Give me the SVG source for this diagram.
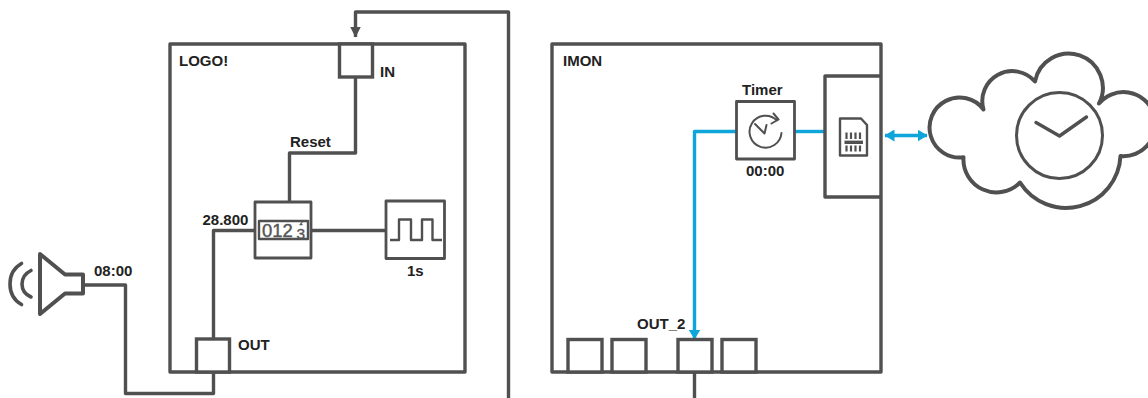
<svg xmlns="http://www.w3.org/2000/svg" width="1148" height="398" viewBox="0 0 1148 398">
<style>
.l{fill:none;stroke:#505050;stroke-width:3.4;stroke-linejoin:round}
.m{fill:none;stroke:#505050;stroke-width:2.8;stroke-linejoin:round}
.t{fill:none;stroke:#505050;stroke-width:2;stroke-linejoin:round;stroke-linecap:round}
.b{fill:none;stroke:#0ea5db;stroke-width:3.4;stroke-linejoin:round}
.p{fill:#fff;stroke:#505050;stroke-width:3.4}
text{font-family:"Liberation Sans",Arial,sans-serif;font-weight:700;font-size:15px;fill:#222}
.d{font-weight:400;font-size:18.5px;fill:#555;stroke:#555;stroke-width:.4}
</style>
<defs>
<marker id="ga" viewBox="0 0 11 11" refX="10.500" refY="5.500" markerWidth="11" markerHeight="11" markerUnits="userSpaceOnUse" orient="auto-start-reverse"><path d="M0 0L11 5.500L0 11z" fill="#505050"/></marker>
<marker id="ba" viewBox="0 0 10 12" refX="9.500" refY="6" markerWidth="10" markerHeight="12" markerUnits="userSpaceOnUse" orient="auto-start-reverse"><path d="M0 0L10 6L0 12z" fill="#0ea5db"/></marker>
</defs>
<g id="logo"><rect class="l" x="170" y="44" width="295" height="328"/><text x="179" y="66">LOGO!</text></g>
<g id="imon"><rect class="l" x="552" y="44" width="329" height="328"/><text x="563" y="66">IMON</text></g>
<g id="connectors">
<path class="l" d="M508.500 398V12H355.500V37" marker-end="url(#ga)"/>
<path class="l" d="M355.500 77V153H289.500V202"/>
<path class="l" d="M255 230.500H213.500V339"/>
<path class="l" d="M311 230.500H386"/>
<path class="l" d="M213.500 372V393.500H125.500V285H84"/>
<path class="l" d="M694.500 372V398"/>
<path class="b" d="M736 131.500H694.500V339" marker-end="url(#ba)"/>
<path class="b" d="M795 131.500H825"/>
<path class="b" d="M885 135.500H927" marker-start="url(#ba)" marker-end="url(#ba)"/>
</g>
<g id="in"><rect class="p" x="339.500" y="44" width="33" height="33"/><text x="380" y="77">IN</text></g>
<g id="out"><rect class="p" x="196.500" y="339" width="33" height="33"/><text x="238" y="350">OUT</text></g>
<g id="reset-label"><text x="290" y="147">Reset</text></g>
<g id="counter"><rect class="m" x="255" y="202" width="56" height="56"/><rect class="m" style="stroke-width:2.400" x="259" y="221" width="49" height="18"/>
<text class="d" x="262" y="236.500">012</text>
<text class="d" style="font-size:5.500px;stroke-width:.5" x="299.500" y="224.500">2</text><text class="d" style="font-size:15.500px" x="296.500" y="239.200">3</text>
<text x="202.500" y="225">28.800</text></g>
<g id="pulse"><rect class="m" x="386" y="201" width="58.500" height="57.500"/><path class="m" style="stroke-width:2.400" d="M390 240H399V219.500H411V240H422V219.500H432.500V240H442"/><text x="407" y="276">1s</text></g>
<g id="speaker"><path class="l" style="stroke-width:4" d="M40 254L65 274.500H83V293.500H65L40 314z"/>
<path class="t" style="stroke-width:3.600" d="M21.500 263.500Q10 270 10 284Q10 298 21.500 304.500M31 270.500Q22 275 22 284Q22 293 31 297"/>
<text x="94" y="276">08:00</text></g>
<g id="timer"><rect class="m" x="736.500" y="101.500" width="58" height="57.500"/>
<path class="t" d="M781.500 133A16 16 0 1 1 777 120.500M773.500 113.500L778.500 119.500L771.500 123.500M755 124L764.500 133.500L766.500 125"/>
<text x="742" y="95">Timer</text><text x="746" y="176">00:00</text></g>
<g id="sim"><path class="l" d="M881 76H825V197H881"/>
<path class="m" style="stroke-width:2.400" d="M840 118.500H861L867 125V155.500H840z"/>
<path class="l" style="stroke-width:2.200" d="M846.500 132.500V139M851 132.500V139M855.500 132.500V139M860 132.500V139M846.500 145.500V151.500M851 145.500V151.500M855.500 145.500V151.500M860 145.500V151.500"/>
<path class="l" d="M844.500 142.300H863"/></g>
<g id="cloud"><path class="l" style="stroke-width:4" d="M983.500 109.500A30 30 0 0 1 1035 81.500A34.200 34.200 0 1 1 1099 103.500A32 32 0 1 1 1120.500 156A54.500 54.500 0 0 1 1020 182.500A33 33 0 0 1 963.500 157.300A30 30 0 1 1 983.500 109.500Z"/>
<circle class="l" style="stroke-width:3" cx="1059.500" cy="135.500" r="43"/>
<path class="t" style="stroke-width:3.400" d="M1036 122.500L1059.500 136L1086.500 117"/></g>
<g id="ports"><rect class="p" x="568" y="339.500" width="34" height="32.500"/><rect class="p" x="612" y="339.500" width="34" height="32.500"/><rect class="p" x="678" y="339.500" width="34" height="32.500"/><rect class="p" x="722" y="339.500" width="34" height="32.500"/><text x="637" y="329">OUT_2</text></g>
</svg>
